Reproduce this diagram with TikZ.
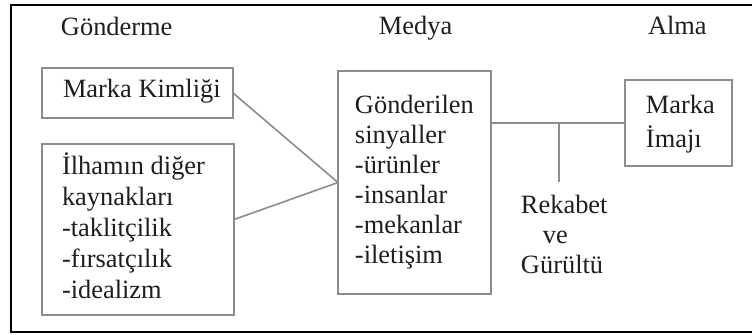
\documentclass[tikz,border=0pt]{standalone}
\usepackage{fontspec}
\setmainfont{Liberation Serif}
\definecolor{edge}{HTML}{8C8C8C}
\definecolor{ink}{HTML}{1E1E1E}
% stacked lines whose baseline is the first line's baseline
\newcommand\boxlines[2]{\vtop{\baselineskip=#1\halign{##\hfil\cr#2\crcr}}}
\begin{document}
\begin{tikzpicture}[x=0.5pt,y=-0.5pt,
  panel/.style={draw=edge,line width=0.8pt,rectangle,inner sep=0pt,outer sep=0pt},
  txt/.style={inner sep=0pt,outer sep=0pt,anchor=base west,text=ink,font=\fontsize{13.2}{15}\selectfont},
  link/.style={draw=edge,line width=0.8pt}]
  \useasboundingbox (0,0) rectangle (752,334);
  \begin{scope}
    \clip (0,0) rectangle (752,334);
    \draw[line width=1.25pt] (11,5) rectangle (780,332);
  \end{scope}

  % column headings
  \node[txt] (hsend) at (61,35) {Gönderme};
  \node[txt] (hmedia) at (379,34) {Medya};
  \node[txt] (hrecv) at (648,34) {Alma};

  % boxes
  \node[panel,minimum width=95.5pt,minimum height=25pt] (mk) at (137.5,93) {};
  \node[panel,minimum width=96pt,minimum height=85.5pt] (il) at (138,229.5) {};
  \node[panel,minimum width=76.5pt,minimum height=111.5pt] (gs) at (414.5,182.5) {};
  \node[panel,minimum width=53.5pt,minimum height=43pt] (mi) at (678.5,123) {};

  % box texts
  \node[txt] (mkt) at (63,97) {Marka Kimliği};
  \node[txt] (ilt) at (62,174) {\boxlines{15.6pt}{İlhamın diğer\cr kaynakları\cr -taklitçilik\cr -fırsatçılık\cr -idealizm}};
  \node[txt] (gst) at (355,113) {\boxlines{15pt}{Gönderilen\cr sinyaller\cr -ürünler\cr -insanlar\cr -mekanlar\cr -iletişim}};
  \node[txt] (mit) at (646,113) {\boxlines{17pt}{Marka\cr İmajı}};
  \node[txt] (rg) at (521,213) {\boxlines{15pt}{Rekabet\cr \hspace{11pt}ve\cr Gürültü}};

  % connectors
  \draw[link] (mk.east) -- (gs.west);
  \draw[link] ([yshift=5pt]il.east) -- (gs.west);
  \draw[link] (gs.east |- mi.west) -- (mi.west);
  \coordinate (j) at (559,123);
  \coordinate (jt) at (559,182);
  \draw[link] (j) -- (jt);
\end{tikzpicture}
\end{document}
